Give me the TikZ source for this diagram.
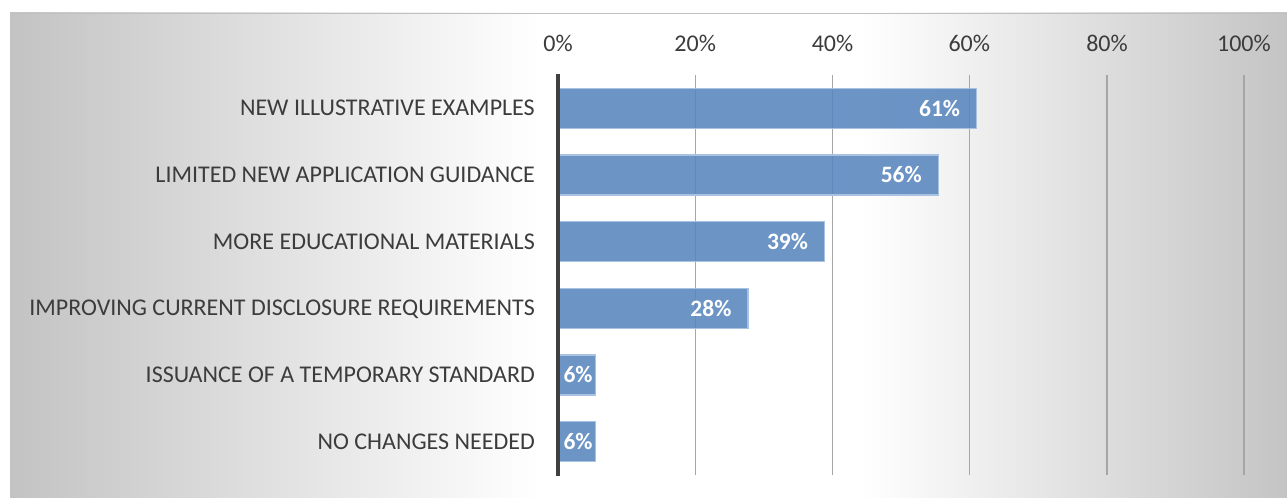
\documentclass[tikz,border=0pt]{standalone}
\usepackage{fontspec}
\setmainfont{Carlito}
\definecolor{txt}{RGB}{60,60,60}
\definecolor{gridc}{RGB}{166,166,166}
\definecolor{barblue}{RGB}{88,134,190}
\definecolor{baredge}{RGB}{168,194,226}
\definecolor{bgL}{RGB}{195,195,195}
\definecolor{bgR}{RGB}{196,196,196}
\definecolor{bgline}{RGB}{192,192,192}
\definecolor{axisc}{RGB}{64,64,64}
\begin{document}
\begin{tikzpicture}[x=1bp,y=-1bp,
  cat/.style={anchor=base east, text=txt, inner sep=0pt, font=\fontsize{24bp}{28bp}\selectfont},
  tick/.style={anchor=base, text=txt, inner sep=0pt, font=\fontsize{24bp}{28bp}\selectfont},
  val/.style={anchor=base east, text=white, inner sep=0pt, font=\fontsize{23.5bp}{28bp}\selectfont\bfseries},
  valw/.style={val, anchor=base west},
  bar/.style={fill=barblue, fill opacity=0.88, draw=baredge, line width=1.2bp},
  gridline/.style={draw=gridc, line width=1.3bp},
  axisline/.style={draw=axisc, line width=4bp}]
\useasboundingbox (0,0) rectangle (1287,498);
% background
\fill[white] (0,0) rectangle (1287,498);
\shade[left color=bgL, right color=white] (10,13) rectangle (541,498);
\fill[white] (540,13) rectangle (861,498);
\shade[left color=white, right color=bgR] (860,13) rectangle (1287,498);
\draw[bgline, line width=1.5bp] (10,13.5) -- (1287,13.5);
% gridlines and tick labels
\node[tick] (t0) at (558,51.5) {0\%};
\foreach \i/\x in {1/695.2, 2/832.5, 3/969.3, 4/1107, 5/1243.9}{
  \coordinate (gt\i) at (\x,75);
  \coordinate (gb\i) at (\x,475);
  \draw[gridline] (gt\i) -- (gb\i);
}
\node[tick] (t1) at (695.2,51.5) {20\%};
\node[tick] (t2) at (832.5,51.5) {40\%};
\node[tick] (t3) at (969.3,51.5) {60\%};
\node[tick] (t4) at (1107,51.5) {80\%};
\node[tick] (t5) at (1243.9,51.5) {100\%};
% bars and categories
\foreach \k/\txt/\e in {1/NEW ILLUSTRATIVE EXAMPLES/976.7, 2/LIMITED NEW APPLICATION GUIDANCE/938.3, 3/MORE EDUCATIONAL MATERIALS/824.6, 4/IMPROVING CURRENT DISCLOSURE REQUIREMENTS/748, 5/ISSUANCE OF A TEMPORARY STANDARD/595.3, 6/NO CHANGES NEEDED/595.3}{
  \pgfmathsetmacro\c{75+66.6667*(\k-0.5)}
  \draw[bar] (558,\c-20) rectangle (\e,\c+20);
  \node[cat] (cat\k) at (535,\c+7.5) {\txt};
}
% axis
\coordinate (axtop) at (558,74.5);
\coordinate (axbot) at (558,475.5);
\draw[axisline] (axtop) -- (axbot);
% values
\node[val] (v1) at (960.3,116.3) {61\%};
\node[val] (v2) at (921.9,183) {56\%};
\node[val] (v3) at (808.2,249.7) {39\%};
\node[val] (v4) at (731.6,316.3) {28\%};
\node[valw] (v5) at (563.3,383) {6\%};
\node[valw] (v6) at (563.3,449.7) {6\%};
\end{tikzpicture}
\end{document}
